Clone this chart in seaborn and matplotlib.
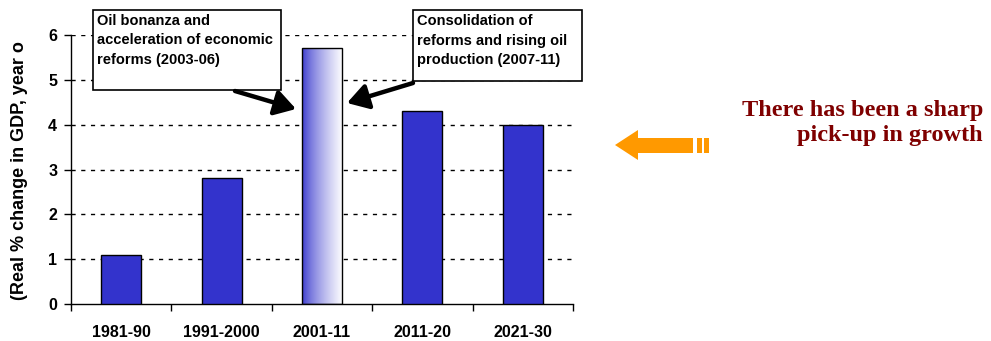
import numpy as np
import matplotlib
matplotlib.use("Agg")
import matplotlib.pyplot as plt
from matplotlib.patches import Rectangle, FancyArrowPatch, Polygon
import seaborn as sns

# Average real GDP growth by period
periods = ["1981-90", "1991-2000", "2001-11", "2011-20", "2021-30"]
growth = [1.1, 2.8, 5.7, 4.3, 4.0]
y_ticks = [0, 1, 2, 3, 4, 5, 6]
highlight = "2001-11"

note_left = "Oil bonanza and\nacceleration of economic\nreforms (2003-06)"
note_right = "Consolidation of\nreforms and rising oil\nproduction (2007-11)"
headline = "There has been a sharp\npick-up in growth"
y_label = "(Real % change in GDP, year o"

sns.set_theme(style="white")
plt.rcParams["font.family"] = ["Liberation Sans", "DejaVu Sans"]
plt.rcParams["text.color"] = "black"
plt.rcParams["xtick.color"] = "black"
plt.rcParams["ytick.color"] = "black"
plt.rcParams["xtick.labelcolor"] = "black"
plt.rcParams["ytick.labelcolor"] = "black"

W, H = 991, 341
fig = plt.figure(figsize=(W / 100, H / 100), dpi=100)


def fx(x):
    return x / W


def fy(y):
    return 1 - y / H


ax = fig.add_axes([fx(71), fy(304), fx(573) - fx(71), fy(35) - fy(304)])

bar_blue = "#3333CC"
sns.barplot(x=periods, y=growth, color=bar_blue, saturation=1, width=0.4,
            edgecolor="black", linewidth=1.0, ax=ax, zorder=3)

ax.set_xlim(-0.5, len(periods) - 0.5)
ax.set_ylim(0, 6)
ax.set_yticks(y_ticks)
ax.set_yticklabels([str(t) for t in y_ticks], fontsize=11.5, fontweight="bold",
                   color="black")
ax.set_xticks(range(len(periods)))
ax.set_xticklabels(periods, fontsize=11.5, fontweight="bold", color="black")
ax.set_xticks(np.arange(-0.5, len(periods), 1.0), minor=True)
ax.tick_params(axis="x", which="major", length=0, pad=15)
ax.tick_params(axis="x", which="minor", length=5, width=1, color="black",
               direction="out", bottom=True)
ax.tick_params(axis="y", length=5, width=1, color="black", direction="out",
               left=True, pad=5)
ax.set_xlabel("")
ax.set_ylabel("")

for side in ("top", "right"):
    ax.spines[side].set_visible(False)
for side in ("left", "bottom"):
    ax.spines[side].set_color("black")
    ax.spines[side].set_linewidth(1.0)

# dashed horizontal gridlines
for t in y_ticks[1:]:
    ax.axhline(t, color="black", lw=1.0, ls=(0, (3, 4)), zorder=1)

# gradient fill for the highlighted bar
idx = periods.index(highlight)
bar = ax.patches[idx]
bar.set_facecolor("none")
bx, by = bar.get_x(), bar.get_y()
bw, bh = bar.get_width(), bar.get_height()
grad = np.linspace(0, 1, 256) ** 0.7
base = np.array([0x33, 0x33, 0xCC]) / 255.0
img = base[None, :] * (1 - grad[:, None]) + np.ones(3)[None, :] * grad[:, None]
img = img[None, :, :]
im = ax.imshow(img, extent=[bx, bx + bw, by, by + bh], aspect="auto",
               zorder=2.5, interpolation="bilinear")
im.set_clip_path(bar)
ax.set_xlim(-0.5, len(periods) - 0.5)
ax.set_ylim(0, 6)

# y-axis title
fig.text(fx(20), fy(300), y_label, rotation=90, ha="center", va="bottom",
         fontsize=13, fontweight="bold", color="black")

# annotation boxes
for (x0, y0, x1, y1), txt in [((93, 10, 281, 90), note_left),
                              ((413, 10, 582, 81), note_right)]:
    fig.add_artist(Rectangle((fx(x0), fy(y1)), fx(x1) - fx(x0), fy(y0) - fy(y1),
                             transform=fig.transFigure, facecolor="white",
                             edgecolor="black", lw=1.2, zorder=5))
    fig.text(fx(x0 + 4), fy(y0 + 4), txt, ha="left", va="top", fontsize=10.5,
             fontweight="bold", linespacing=1.5, color="black", zorder=6)

# black arrows pointing at the highlighted bar
for start, end in [((235, 91), (296, 109)), ((413, 83), (347, 103))]:
    fig.add_artist(FancyArrowPatch((fx(start[0]), fy(start[1])),
                                   (fx(end[0]), fy(end[1])),
                                   transform=fig.transFigure,
                                   arrowstyle="-|>,head_length=0.9,head_width=0.55",
                                   mutation_scale=14, lw=3.2, color="black",
                                   shrinkA=0, shrinkB=0, zorder=7))

# orange block arrow
orange = "#FF9900"
arrow_pts = [(615, 145), (638, 130), (638, 138), (693, 138), (693, 153),
             (638, 153), (638, 160)]
fig.add_artist(Polygon([(fx(x), fy(y)) for x, y in arrow_pts], closed=True,
                       transform=fig.transFigure, facecolor=orange,
                       edgecolor="none"))
for x0, x1 in [(697, 702), (704, 709)]:
    fig.add_artist(Rectangle((fx(x0), fy(153)), fx(x1) - fx(x0), fy(138) - fy(153),
                             transform=fig.transFigure, facecolor=orange,
                             edgecolor="none"))

fig.text(fx(983), fy(123), headline, ha="right", va="center", fontsize=17.5,
         fontweight="bold", color="#7F0000", family=["Liberation Serif"],
         linespacing=1.22)

fig.savefig("out.png", dpi=100)
